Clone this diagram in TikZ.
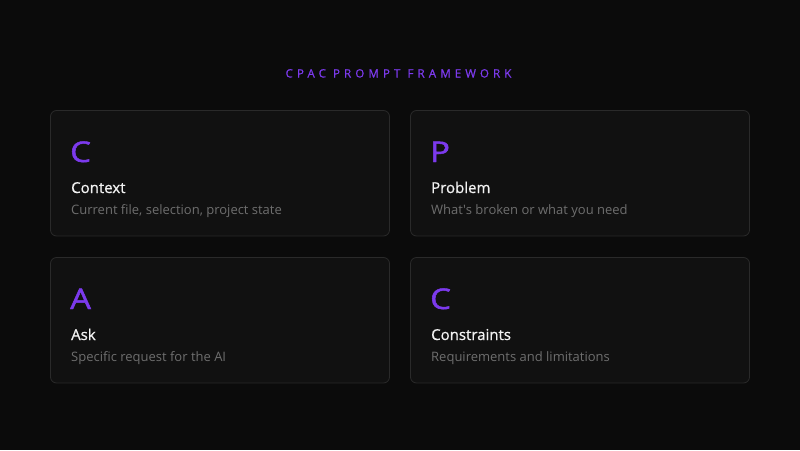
\documentclass[tikz,border=0pt]{standalone}
\usepackage{fontspec}
\usepackage{graphicx}
\setmainfont{Open Sans}
\newfontfamily\medfont[FakeBold=0.8]{Open Sans}
\newfontfamily\semifont[FakeBold=1.6]{Open Sans}
\definecolor{bg}{HTML}{0B0B0B}
\definecolor{cardfill}{HTML}{111111}
\definecolor{cardline}{HTML}{2A2A2A}
\definecolor{accent}{HTML}{7C3AED}
\definecolor{titlec}{HTML}{F2F2F2}
\definecolor{descc}{HTML}{6E6E6E}
\newcommand{\bigletter}[1]{\scalebox{1.15}[1]{#1}}
\tikzset{
  card/.style={draw=cardline, line width=0.8pt, fill=cardfill, rounded corners=6pt},
  letter/.style={anchor=base west, inner sep=0pt, text=accent, font=\semifont\fontsize{28.5}{32}\selectfont},
  ctitle/.style={anchor=base west, inner sep=0pt, text=titlec, font=\medfont\fontsize{15}{18}\selectfont},
  cdesc/.style={anchor=base west, inner sep=0pt, text=descc, font=\fontsize{13}{16}\selectfont},
  heading/.style={anchor=base, inner sep=0pt, text=accent, font=\medfont\fontsize{11.5}{13}\selectfont\addfontfeature{LetterSpace=36}}
}
\begin{document}
\begin{tikzpicture}[x=1pt,y=-1pt]
\fill[bg] (0,0) rectangle (800,450);
\useasboundingbox (0,0) rectangle (800,450);
\node[heading] (head) at (398.5,77.5) {CPAC PROMPT FRAMEWORK};
% cards
\draw[card] (50.5,110.5) rectangle (389.5,236) coordinate (c1);
\draw[card] (410.5,110.5) rectangle (749.5,236) coordinate (c2);
\draw[card] (50.5,257.5) rectangle (389.5,383) coordinate (c3);
\draw[card] (410.5,257.5) rectangle (749.5,383) coordinate (c4);
% card 1
\node[letter] (l1) at (70,162) {\bigletter{C}};
\node[ctitle] (t1) at (71,193) {Context};
\node[cdesc] (d1) at (71,214) {Current file, selection, project state};
% card 2
\node[letter] (l2) at (430,162) {\bigletter{P}};
\node[ctitle] (t2) at (431,193) {Problem};
\node[cdesc] (d2) at (431,214) {What\textquotesingle s broken or what you need};
% card 3
\node[letter] (l3) at (70,309) {\bigletter{A}};
\node[ctitle] (t3) at (71,340) {Ask};
\node[cdesc] (d3) at (71,361) {Specific request for the AI};
% card 4
\node[letter] (l4) at (430,309) {\bigletter{C}};
\node[ctitle] (t4) at (431,340) {Constraints};
\node[cdesc] (d4) at (431,361) {Requirements and limitations};
\end{tikzpicture}
\end{document}
